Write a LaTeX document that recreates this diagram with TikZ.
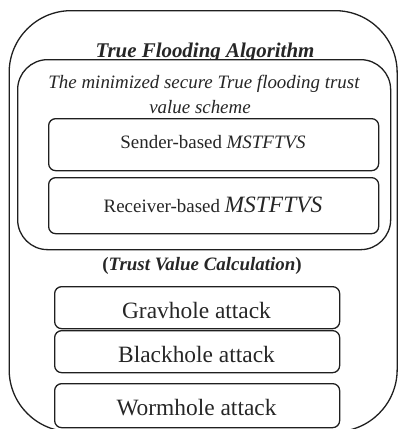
\documentclass[tikz,border=0pt]{standalone}
\usepackage{fontspec}
\setmainfont{Liberation Serif}
\begin{document}
\begin{tikzpicture}[x=1bp,y=-1bp,
  frame/.style={draw=black!88,line width=1.3bp,rectangle,inner sep=0pt},
  smallbox/.style={frame,rounded corners=7bp,minimum width=#1},
  lbl/.style={anchor=base,inner sep=0pt,text=black!85}]
\useasboundingbox (0,0) rectangle (398,429);
% outer container
\node[frame,rounded corners=62bp,minimum width=388bp,minimum height=421bp,anchor=north west] (outer) at (8.5,10) {};
\node[lbl,font=\fontsize{21}{25}\selectfont\bfseries\itshape] (title) at (205,57.5) {True Flooding Algorithm};
% scheme container
\node[frame,fill=white,rounded corners=30bp,minimum width=373bp,minimum height=190bp,anchor=north west] (scheme) at (17,59) {};
\node[lbl,font=\fontsize{19}{25}\selectfont\itshape] (sch1) at (204,88) {The minimized secure True flooding trust};
\node[lbl,font=\fontsize{19}{25}\selectfont\itshape] (sch2) at (200,113) {value scheme};
\node[smallbox=330bp,minimum height=52bp,anchor=north west] (sender) at (48,118) {};
\node[lbl,font=\fontsize{19}{23}\selectfont] (sendert) at (213,148) {Sender-based \textit{MSTFTVS}};
\node[smallbox=330bp,minimum height=56bp,anchor=north west] (receiver) at (48,177) {};
\node[lbl,font=\fontsize{19}{23}\selectfont] (receivert) at (213,212) {Receiver-based {\fontsize{23.5}{26}\selectfont\itshape MSTFTVS}};
% trust value calculation
\node[lbl,font=\fontsize{19}{23}\selectfont\bfseries] (tvc) at (202,270) {(\textit{Trust Value Calculation})};
% attacks
\node[smallbox=285bp,minimum height=42bp,anchor=north west] (grav) at (54,286) {};
\node[lbl,font=\fontsize{23.5}{26}\selectfont] (gravt) at (196.5,318) {Gravhole attack};
\node[smallbox=285bp,minimum height=42bp,anchor=north west] (black) at (54,330) {};
\node[lbl,font=\fontsize{23.5}{26}\selectfont] (blackt) at (196.5,362) {Blackhole attack};
\node[smallbox=285bp,minimum height=44bp,anchor=north west] (worm) at (54,383) {};
\node[lbl,font=\fontsize{23.5}{26}\selectfont] (wormt) at (196.5,415) {Wormhole attack};
\end{tikzpicture}
\end{document}
